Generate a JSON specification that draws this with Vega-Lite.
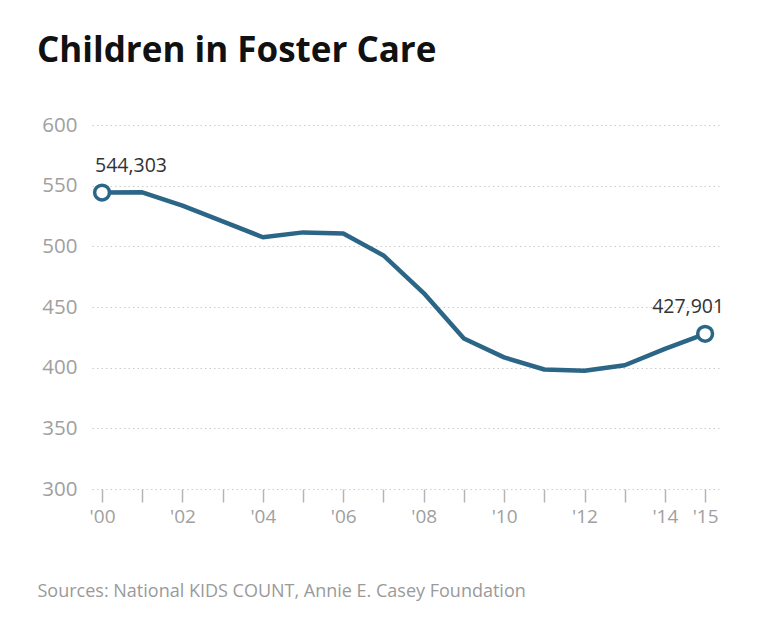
{
  "$schema": "https://vega.github.io/schema/vega-lite/v6.json",
  "autosize": "none",
  "width": 630,
  "height": 364,
  "padding": {"left": 92, "top": 125, "right": 38, "bottom": 154},
  "background": "white",
  "config": {"view": {"stroke": null}, "font": "Open Sans"},
  "title": {
    "text": "Children in Foster Care",
    "anchor": "start",
    "frame": "group",
    "dx": -55,
    "fontSize": 35,
    "fontWeight": "bold",
    "font": "Open Sans",
    "color": "#111111",
    "offset": 46
  },
  "data": {
    "values": [
      {"year": 2000, "value": 544.3, "label": "544,303"},
      {"year": 2001, "value": 544.5, "label": ""},
      {"year": 2002, "value": 533.5, "label": ""},
      {"year": 2003, "value": 520.5, "label": ""},
      {"year": 2004, "value": 507.5, "label": ""},
      {"year": 2005, "value": 511.5, "label": ""},
      {"year": 2006, "value": 510.5, "label": ""},
      {"year": 2007, "value": 492.5, "label": ""},
      {"year": 2008, "value": 461.5, "label": ""},
      {"year": 2009, "value": 424, "label": ""},
      {"year": 2010, "value": 408.5, "label": ""},
      {"year": 2011, "value": 398.5, "label": ""},
      {"year": 2012, "value": 397.5, "label": ""},
      {"year": 2013, "value": 402, "label": ""},
      {"year": 2014, "value": 415.5, "label": ""},
      {"year": 2015, "value": 427.9, "label": "427,901"}
    ]
  },
  "encoding": {
    "x": {
      "field": "year",
      "type": "quantitative",
      "scale": {"domain": [1999.75, 2015.42], "nice": false, "zero": false},
      "axis": {
        "values": [2000,2001,2002,2003,2004,2005,2006,2007,2008,2009,2010,2011,2012,2013,2014,2015],
        "labelExpr": "(datum.value % 2 == 0 || datum.value == 2015) ? \"'\" + slice(toString(datum.value), 2) : ''",
        "grid": false,
        "domain": false,
        "ticks": true,
        "tickSize": 13,
        "tickWidth": 1.5,
        "tickColor": "#b5b5b5",
        "labelColor": "#a0a0a0",
        "labelFontSize": 19,
        "labelFont": "Open Sans",
        "labelPadding": 5,
        "labelFlush": false,
        "title": "Sources: National KIDS COUNT, Annie E. Casey Foundation",
        "titleAnchor": "start",
        "titleAlign": "left",
        "titleX": -55,
        "titleY": 107,
        "titleBaseline": "alphabetic",
        "titleFont": "Open Sans",
        "titleFontSize": 18,
        "titleFontWeight": "normal",
        "titleColor": "#9a9a9a"
      }
    },
    "y": {
      "field": "value",
      "type": "quantitative",
      "scale": {"domain": [300, 600], "nice": false, "zero": false},
      "axis": {
        "values": [300, 350, 400, 450, 500, 550, 600],
        "grid": true,
        "gridColor": "#cccccc",
        "gridDash": [1.5, 3],
        "gridWidth": 1.2,
        "domain": false,
        "ticks": false,
        "labelColor": "#a0a0a0",
        "labelFontSize": 20.5,
        "labelFont": "Open Sans",
        "labelPadding": 15,
        "title": null
      }
    }
  },
  "layer": [
    {
      "mark": {"type": "line", "color": "#2c6687", "strokeWidth": 4.5, "strokeJoin": "round", "strokeCap": "round"}
    },
    {
      "transform": [{"filter": "datum.label != ''"}],
      "mark": {"type": "point", "shape": "circle", "size": 220, "filled": true, "fill": "white", "stroke": "#2c6687", "strokeWidth": 3.5, "opacity": 1}
    },
    {
      "transform": [{"filter": "datum.year == 2000"}],
      "mark": {"type": "text", "align": "left", "baseline": "alphabetic", "dx": -7, "dy": -21, "fontSize": 19.5, "font": "Open Sans", "color": "#333333"},
      "encoding": {"text": {"field": "label"}}
    },
    {
      "transform": [{"filter": "datum.year == 2015"}],
      "mark": {"type": "text", "align": "right", "baseline": "alphabetic", "dx": 19, "dy": -21, "fontSize": 19.5, "font": "Open Sans", "color": "#333333"},
      "encoding": {"text": {"field": "label"}}
    }
  ]
}
